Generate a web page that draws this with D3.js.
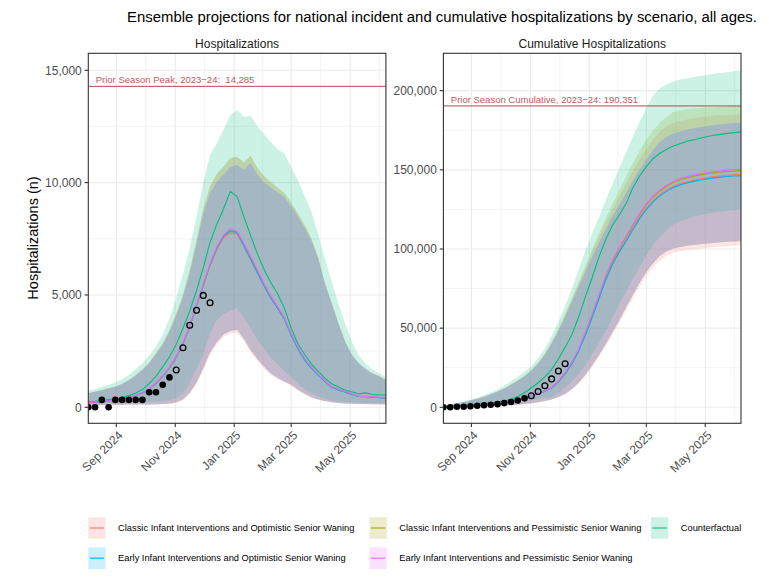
<!DOCTYPE html>
<html><head><meta charset="utf-8">
<script src="https://cdn.jsdelivr.net/npm/d3@7"></script>
<style>
body{margin:0;background:#fff}
svg{display:block}
text{font-family:"Liberation Sans",Arial,Helvetica,sans-serif}
</style>
</head><body>
<svg id="chart" width="769" height="584"></svg>
<script>
// ---------------- DATA ----------------
const chartTitle = "Ensemble projections for national incident and cumulative hospitalizations by scenario, all ages.";
const panelTitles = ["Hospitalizations", "Cumulative Hospitalizations"];
const yAxisTitle = "Hospitalizations (n)";

const weekDates = ["2024-08-03","2024-08-10","2024-08-17","2024-08-24","2024-08-31","2024-09-07","2024-09-14","2024-09-21","2024-09-28",
"2024-10-05","2024-10-12","2024-10-19","2024-10-26","2024-11-02","2024-11-09","2024-11-16","2024-11-23","2024-11-30",
"2024-12-07","2024-12-14","2024-12-21","2024-12-28","2025-01-04","2025-01-11","2025-01-18","2025-01-25","2025-02-01",
"2025-02-08","2025-02-15","2025-02-22","2025-03-01","2025-03-08","2025-03-15","2025-03-22","2025-03-29","2025-04-05",
"2025-04-12","2025-04-19","2025-04-26","2025-05-03","2025-05-10","2025-05-17","2025-05-24","2025-05-31","2025-06-07"];

const xTickDates = ["2024-09-01","2024-11-01","2025-01-01","2025-03-01","2025-05-01"];
const xTickLabels = ["Sep 2024","Nov 2024","Jan 2025","Mar 2025","May 2025"];

const scenarioNames = ["Classic Infant Interventions and Optimistic Senior Waning",
  "Classic Infant Interventions and Pessimistic Senior Waning",
  "Counterfactual",
  "Early Infant Interventions and Optimistic Senior Waning",
  "Early Infant Interventions and Pessimistic Senior Waning"];
const scenarioColors = ["#F8766D","#A3A500","#00BF7D","#00B0F6","#E76BF3"];

// Observed (first 13 final = filled, rest provisional = open)
const obsCountFinal = 13;
const obsIncident = [0,0,330,0,330,330,330,330,330,670,670,1000,1330,1660,2650,3650,4320,4980,4650];
const obsCumulative = [0,0,330,330,660,990,1320,1650,1980,2650,3320,4320,5650,7310,9960,13610,17930,22910,27560];

// Incident hospitalizations, medians
const incClassicOptMed = [200,220,250,290,330,375,435,525,630,810,1060,1360,1740,2230,2820,3560,4500,5400,6300,7020,7550,7760,7720,7160,6580,5980,5380,4840,4400,3920,3220,2600,2100,1740,1430,1150,900,780,680,570,480,470,455,430,395];
const incClassicPessMed = [205,225,255,295,335,380,440,530,640,815,1070,1375,1755,2245,2840,3590,4530,5440,6350,7080,7620,7860,7800,7240,6660,6060,5450,4900,4450,3960,3250,2630,2120,1760,1450,1165,910,790,690,580,490,478,462,438,400];
const incCounterMed = [250,270,300,340,380,440,520,640,790,1050,1380,1800,2240,2800,3520,4280,5200,6220,7340,8150,8840,9610,9380,8480,7640,6830,6130,5540,5040,4410,3520,2820,2350,1920,1600,1290,1050,900,760,680,600,640,570,550,550];
const incEarlyOptMed = [200,220,250,290,330,378,438,528,635,815,1075,1375,1755,2245,2840,3590,4530,5440,6350,7080,7620,7850,7780,7200,6600,6000,5400,4850,4400,3930,3210,2590,2090,1730,1420,1140,890,770,670,565,478,468,452,428,392];
const incEarlyPessMed = [210,230,260,300,340,385,445,535,645,825,1085,1390,1770,2265,2865,3620,4570,5480,6400,7130,7680,7960,7840,7300,6720,6120,5500,4950,4480,4000,3280,2670,2160,1790,1470,1180,920,800,700,590,495,485,468,442,405];
// Incident, interval bounds
const incCounterUpper = [740,820,910,1000,1120,1260,1450,1690,1970,2300,2720,3230,3960,4880,5920,7100,8480,10000,11250,11750,12350,13000,13230,12930,12960,12500,12150,11800,11500,11300,10700,10100,9400,8700,7700,6600,5600,4600,3700,2900,2300,1950,1700,1500,1350];
const incCounterLower = [150,160,170,180,190,200,210,220,230,240,260,280,320,420,650,1100,1700,2400,3300,3900,4150,4300,4400,4000,3500,3000,2600,2200,1900,1600,1350,1050,800,620,480,380,300,260,230,210,200,190,180,180,180];
const incClassicUpper = [630,700,770,850,930,1050,1220,1430,1690,1990,2410,2840,3440,4160,5020,6130,7450,8850,9850,10380,10720,11080,11150,10900,11200,10650,10280,10020,9780,9540,9100,8620,8100,7500,6680,5520,4650,3740,2930,2320,1970,1710,1510,1390,1230];
const incEarlyUpper = [620,690,760,840,920,1040,1200,1410,1660,1950,2360,2780,3360,4060,4900,5970,7250,8600,9530,10030,10350,10700,10780,10560,10860,10350,10000,9770,9560,9350,8930,8480,7980,7400,6600,5460,4600,3700,2900,2300,1950,1700,1500,1380,1220];
const incScenarioLower = [80,90,100,100,110,110,120,120,130,130,140,150,170,220,350,650,1100,1750,2450,2900,3250,3400,3450,3050,2550,2150,1800,1500,1300,1150,1000,780,600,450,350,280,220,190,170,160,150,150,140,140,130];
const incClassicOptLower = [70,80,90,90,100,100,110,110,120,120,130,140,160,200,320,600,1020,1650,2330,2780,3130,3280,3330,2940,2450,2060,1720,1430,1240,1100,950,740,570,430,330,265,210,180,160,150,140,140,130,130,120];

// Cumulative hospitalizations, medians
const cumClassicOptMed = [200,400,600,900,1200,1500,1900,2300,2800,3400,4000,4900,6000,7200,8600,10200,12200,16000,21300,27600,35800,46000,57200,69000,80800,90700,98600,105500,112900,119800,125700,130600,134300,137200,139600,141300,142500,143500,144400,145100,145700,146200,146600,146900,147200];
const cumClassicPessMed = [200,400,600,900,1200,1500,1900,2300,2800,3400,4100,5000,6100,7300,8700,10400,12400,16300,21700,28100,36500,47000,58400,70300,82200,92200,100200,107200,114700,121700,127700,132700,136500,139500,142000,143700,144900,145900,146800,147500,148100,148600,149000,149300,149600];
const cumCounterMed = [200,500,800,1100,1500,1900,2300,2800,3300,4000,5200,6800,9200,12200,15500,19200,24000,30500,38000,46000,57000,70000,82000,95000,106000,115000,121500,128500,138500,146000,152000,157000,160500,163000,165000,166500,168000,169000,170000,171000,171800,172400,173000,173500,174000];
const cumEarlyOptMed = [200,400,600,900,1200,1500,1900,2300,2800,3400,4000,4900,6000,7200,8600,10200,12200,16000,21200,27400,35600,45700,56900,68600,80400,90200,98000,104800,112200,119000,124900,129800,133500,136400,138800,140500,141700,142700,143600,144300,144900,145400,145800,146100,146300];
const cumEarlyPessMed = [200,400,600,900,1200,1500,1900,2300,2800,3400,4100,5000,6100,7400,8800,10500,12500,16500,22000,28500,37000,47500,59000,71000,83000,93000,101000,108000,115500,122500,128500,133500,137300,140300,142800,144500,145700,146700,147600,148300,148900,149400,149800,150100,150400];
// Cumulative, interval bounds
const cumCounterUpper = [1000,1800,2700,3700,4800,6100,7600,9300,11300,13600,16500,19500,22500,26000,31000,37000,45000,54000,64000,75000,87000,99000,110000,120000,131000,141000,151000,161000,171000,180000,189000,197000,201500,204000,205800,207000,207800,208600,209300,210000,210600,211200,211700,212200,212600];
const cumCounterLower = [200,400,600,800,1000,1200,1400,1700,2000,2400,2800,3300,3900,4500,5200,5800,6200,9000,12500,16500,21000,27000,33500,40500,48000,56500,65000,73000,81000,88500,96000,102500,107500,112000,115500,117500,119000,120300,121300,122200,123000,123700,124200,124600,125000];
const cumClassicPessUpper = [950,1700,2500,3400,4400,5500,6800,8400,10100,12100,14500,17200,20100,23700,28500,34200,41500,49900,59300,69200,79000,89500,100000,110000,119500,128500,137000,145500,154000,162000,169000,175000,179500,183500,186500,187500,188200,188700,189100,189400,189600,189800,190000,190100,190200];
const cumClassicOptUpper = [900,1600,2400,3300,4300,5400,6700,8200,9900,11900,14300,16900,19800,23300,28000,33600,40800,49000,58300,68000,78000,88000,98000,107500,116500,125000,133000,141000,149000,156500,163000,169000,174000,177500,179500,180800,181800,182600,183200,183700,184100,184400,184600,184800,185000];
const cumEarlyUpper = [900,1600,2400,3300,4300,5400,6700,8200,9900,11900,14200,16800,19600,23000,27500,33000,40000,48000,57000,66500,76000,85500,95000,104000,112500,120500,128000,135500,143000,150000,156500,162500,167500,170800,172800,174200,175300,176200,177000,177600,178200,178700,179100,179500,179800];
const cumScenarioLower = [100,200,300,400,500,600,700,800,1000,1200,1400,1700,2100,2600,3200,4000,5000,6500,8500,11500,15500,20500,26500,33000,40000,47500,55000,63000,71000,78500,85500,91000,95500,98500,100300,101300,102000,102500,103000,103400,103800,104200,104500,104800,105000];
const cumClassicOptLower = [100,200,300,400,500,600,700,800,950,1150,1350,1650,2000,2500,3100,3800,4800,6200,8100,11000,14900,19700,25500,31800,38600,45900,53200,61000,68800,76200,83000,88400,92800,95800,97600,98600,99300,99800,100300,100700,101100,101500,101800,102100,102300];

const incYTicks = [0,5000,10000,15000];
const cumYTicks = [0,50000,100000,150000,200000];
const incPrior = 14285, incPriorLabel = "Prior Season Peak, 2023\u221224:  14,285";
const cumPrior = 190351, cumPriorLabel = "Prior Season Cumulative, 2023\u221224: 190,351";

// ---------------- DRAW ----------------
const svg = d3.select("#chart");
const parse = d3.timeParse("%Y-%m-%d");
const dates = weekDates.map(parse);
const tickDates = xTickDates.map(parse);
const fmt = d3.format(",");

svg.append("rect").attr("width",769).attr("height",584).attr("fill","#fff");

svg.append("text").attr("x",442).attr("y",22).attr("text-anchor","middle")
  .attr("font-size",14.9).attr("fill","#000").text(chartTitle);

svg.append("text").attr("transform","translate(38,238) rotate(-90)").attr("text-anchor","middle")
  .attr("font-size",14.5).attr("fill","#000").text(yAxisTitle);

const incSeries = [
  {med:incClassicOptMed, lo:incClassicOptLower, hi:incClassicUpper},
  {med:incClassicPessMed, lo:incScenarioLower, hi:incClassicUpper},
  {med:incCounterMed, lo:incCounterLower, hi:incCounterUpper},
  {med:incEarlyOptMed, lo:incScenarioLower, hi:incEarlyUpper},
  {med:incEarlyPessMed, lo:incScenarioLower, hi:incEarlyUpper}
];
const cumSeries = [
  {med:cumClassicOptMed, lo:cumClassicOptLower, hi:cumClassicOptUpper},
  {med:cumClassicPessMed, lo:cumScenarioLower, hi:cumClassicPessUpper},
  {med:cumCounterMed, lo:cumCounterLower, hi:cumCounterUpper},
  {med:cumEarlyOptMed, lo:cumScenarioLower, hi:cumEarlyUpper},
  {med:cumEarlyPessMed, lo:cumScenarioLower, hi:cumEarlyUpper}
];

const PW = 297.6, PT = 53.3, PB = 423.3;

function drawPanel(idx, left, yDomain, yTicks, series, obs, prior, priorLabel){
  const g = svg.append("g");
  const x = d3.scaleTime().domain([dates[0], dates[dates.length-1]]).range([left, left+PW]);
  const y = d3.scaleLinear().domain(yDomain).range([PB, PT]);
  const clipId = "clip"+idx;
  svg.append("clipPath").attr("id",clipId).append("rect")
    .attr("x",left).attr("y",PT).attr("width",PW).attr("height",PB-PT);
  const inner = g.append("g").attr("clip-path",`url(#${clipId})`);

  const step = yTicks[1]-yTicks[0];
  const minorY = [];
  for (let v = yTicks[0]-step/2; v <= yDomain[1]; v += step) if (v >= yDomain[0]) minorY.push(v);
  const minorX = [];
  const ext = [d3.timeMonth.offset(tickDates[0],-2), ...tickDates, d3.timeMonth.offset(tickDates[tickDates.length-1],2)];
  for (let i=0;i<ext.length-1;i++) minorX.push(new Date((+ext[i] + +ext[i+1])/2));
  inner.selectAll(".gmy").data(minorY).join("line")
    .attr("x1",left).attr("x2",left+PW).attr("y1",d=>y(d)).attr("y2",d=>y(d))
    .attr("stroke","#EBEBEB").attr("stroke-width",0.6);
  inner.selectAll(".gmx").data(minorX).join("line")
    .attr("y1",PT).attr("y2",PB).attr("x1",d=>x(d)).attr("x2",d=>x(d))
    .attr("stroke","#EBEBEB").attr("stroke-width",0.6);
  inner.selectAll(".gMy").data(yTicks).join("line")
    .attr("x1",left).attr("x2",left+PW).attr("y1",d=>y(d)).attr("y2",d=>y(d))
    .attr("stroke","#EBEBEB").attr("stroke-width",1.1);
  inner.selectAll(".gMx").data(tickDates).join("line")
    .attr("y1",PT).attr("y2",PB).attr("x1",d=>x(d)).attr("x2",d=>x(d))
    .attr("stroke","#EBEBEB").attr("stroke-width",1.1);

  series.forEach((s,i)=>{
    const area = d3.area().x((d,j)=>x(dates[j])).y0((d,j)=>y(s.lo[j])).y1((d,j)=>y(s.hi[j]));
    inner.append("path").datum(s.med).attr("d",area)
      .attr("fill",scenarioColors[i]).attr("fill-opacity",0.2);
  });

  inner.append("line").attr("x1",left).attr("x2",left+PW).attr("y1",y(prior)).attr("y2",y(prior))
    .attr("stroke","#B5484B").attr("stroke-width",1);
  g.append("text").attr("x",left+7.4).attr("y",y(prior)-3).attr("font-size",9.5)
    .attr("fill","#BF5B5B").style("white-space","pre").text(priorLabel);

  series.forEach((s,i)=>{
    const line = d3.line().x((d,j)=>x(dates[j])).y(d=>y(d));
    inner.append("path").datum(s.med).attr("d",line)
      .attr("fill","none").attr("stroke",scenarioColors[i]).attr("stroke-width",1.1);
  });

  const od = obs.map((v,i)=>({d:dates[i], v, f:i<obsCountFinal}));
  inner.selectAll(".obs").data(od).join("circle")
    .attr("cx",d=>x(d.d)).attr("cy",d=>y(d.v))
    .attr("r",d=>d.f?3.3:2.9)
    .attr("fill",d=>d.f?"#000":"none")
    .attr("stroke","#000").attr("stroke-width",d=>d.f?0:1.3);

  g.append("rect").attr("x",left).attr("y",PT).attr("width",PW).attr("height",PB-PT)
    .attr("fill","none").attr("stroke","#333333").attr("stroke-width",1.1);

  yTicks.forEach(t=>{
    g.append("line").attr("x1",left-3.7).attr("x2",left).attr("y1",y(t)).attr("y2",y(t))
      .attr("stroke","#333333").attr("stroke-width",1.1);
    g.append("text").attr("x",left-6.5).attr("y",y(t)).attr("dy","0.36em")
      .attr("text-anchor","end").attr("font-size",12).attr("fill","#4D4D4D").text(fmt(t));
  });
  tickDates.forEach((t,i)=>{
    g.append("line").attr("x1",x(t)).attr("x2",x(t)).attr("y1",PB).attr("y2",PB+3.7)
      .attr("stroke","#333333").attr("stroke-width",1.1);
    g.append("text").attr("transform",`translate(${x(t)+1},${PB+6.5}) rotate(-45)`)
      .attr("text-anchor","end").attr("dy","0.72em").attr("font-size",12).attr("fill","#4D4D4D")
      .text(xTickLabels[i]);
  });
  g.append("text").attr("x",left+PW/2).attr("y",47.5).attr("text-anchor","middle")
    .attr("font-size",12).attr("fill","#1A1A1A").text(panelTitles[idx]);
}

drawPanel(0, 88.3, [-712, 15755], incYTicks, incSeries, obsIncident, incPrior, incPriorLabel);
drawPanel(1, 443.4, [-10100, 223600], cumYTicks, cumSeries, obsCumulative, cumPrior, cumPriorLabel);

// legend
const legCols = [88.3, 369.5, 651];
const legRows = [517.2, 547.4];
const KW = 17.3, KH = 21.6;
scenarioNames.forEach((name,i)=>{
  const col = i % 3, row = Math.floor(i/3);
  const kx = legCols[col], ky = legRows[row];
  const lg = svg.append("g");
  lg.append("rect").attr("x",kx).attr("y",ky).attr("width",KW).attr("height",KH)
    .attr("fill",scenarioColors[i]).attr("fill-opacity",0.2);
  lg.append("line").attr("x1",kx+1.5).attr("x2",kx+KW-1.5).attr("y1",ky+KH/2).attr("y2",ky+KH/2)
    .attr("stroke",scenarioColors[i]).attr("stroke-width",1.1);
  lg.append("text").attr("x",kx+KW+12.5).attr("y",ky+KH/2).attr("dy","0.35em")
    .attr("font-size",9.3).attr("fill","#000").text(name);
});
</script>
</body></html>
